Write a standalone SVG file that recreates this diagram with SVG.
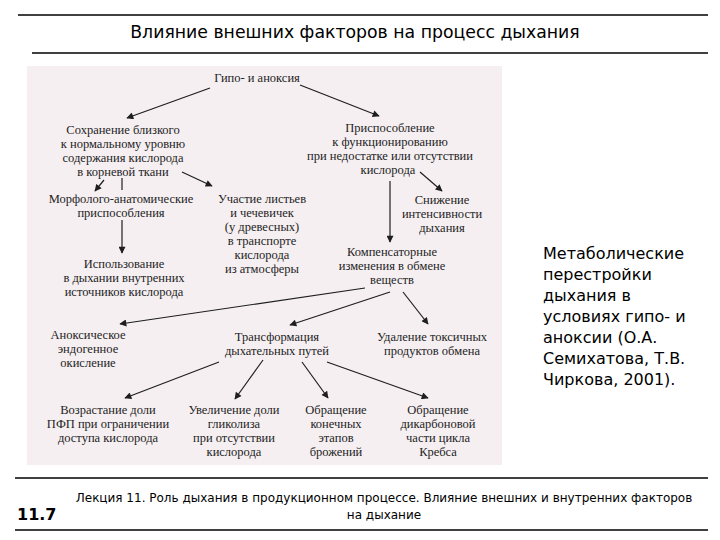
<svg xmlns="http://www.w3.org/2000/svg" width="720" height="540" viewBox="0 0 720 540">
<style>
.t{font-family:"Liberation Serif","Times New Roman",serif;font-size:12.5px;fill:#1e1e1e;text-anchor:middle}
.c{stroke:#1e1e1e;stroke-width:1.2;fill:none}
.rule{stroke:#000;stroke-width:1.3}
.hd{font-family:"DejaVu Sans",Tahoma,sans-serif;fill:#000}
</style>
<defs>
<marker id="ah" viewBox="0 0 10 10" refX="9" refY="5" markerWidth="9" markerHeight="7" markerUnits="userSpaceOnUse" orient="auto"><path d="M0,0 L10,5 L0,10 z" fill="#1e1e1e"/></marker>
</defs>
<rect width="720" height="540" fill="#fff"/>
<g id="header">
<line class="rule" x1="18" y1="15" x2="708" y2="15"/>
<text class="hd" x="355" y="38" font-size="17.3" text-anchor="middle">Влияние внешних факторов на процесс дыхания</text>
<line class="rule" x1="32" y1="53" x2="708" y2="53"/>
</g>
<rect id="panel" x="27" y="66" width="475" height="399" fill="#f5eff1"/>
<g id="connectors">
<path class="c" d="M210,88 L127,118" marker-end="url(#ah)"/>
<path class="c" d="M300,85 L379,116" marker-end="url(#ah)"/>
<path class="c" d="M104,180 L95,191" marker-end="url(#ah)"/>
<path class="c" d="M122,178 L122,190"/>
<path class="c" d="M182,172 L212,186" marker-end="url(#ah)"/>
<path class="c" d="M420,172 L442,191" marker-end="url(#ah)"/>
<path class="c" d="M390,181 L390,242" marker-end="url(#ah)"/>
<path class="c" d="M122,220 L122,253" marker-end="url(#ah)"/>
<path class="c" d="M365,288 L120,324" marker-end="url(#ah)"/>
<path class="c" d="M390,292 L290,325" marker-end="url(#ah)"/>
<path class="c" d="M403,292 L428,324" marker-end="url(#ah)"/>
<path class="c" d="M219,362 L125,398" marker-end="url(#ah)"/>
<path class="c" d="M263,360 L235,399" marker-end="url(#ah)"/>
<path class="c" d="M302,362 L328,398" marker-end="url(#ah)"/>
<path class="c" d="M327,362 L428,398" marker-end="url(#ah)"/>
</g>
<g id="n-hypo"><text class="t" x="257" y="82">Гипо- и аноксия</text></g>
<g id="n-keep"><text class="t" x="123" y="134">Сохранение близкого</text><text class="t" x="123" y="148">к нормальному уровню</text><text class="t" x="123" y="162">содержания кислорода</text><text class="t" x="123" y="176">в корневой ткани</text></g>
<g id="n-adapt"><text class="t" x="390" y="132">Приспособление</text><text class="t" x="390" y="146">к функционированию</text><text class="t" x="390" y="160">при недостатке или отсутствии</text><text class="t" x="388" y="174">кислорода</text></g>
<g id="n-morph"><text class="t" x="121" y="203">Морфолого-анатомические</text><text class="t" x="121" y="217">приспособления</text></g>
<g id="n-leaves"><text class="t" x="262" y="203">Участие листьев</text><text class="t" x="262" y="217">и чечевичек</text><text class="t" x="262" y="231">(у древесных)</text><text class="t" x="262" y="245">в транспорте</text><text class="t" x="262" y="259">кислорода</text><text class="t" x="262" y="273">из атмосферы</text></g>
<g id="n-decr"><text class="t" x="442" y="204">Снижение</text><text class="t" x="442" y="218">интенсивности</text><text class="t" x="442" y="232">дыхания</text></g>
<g id="n-use"><text class="t" x="124" y="268">Использование</text><text class="t" x="124" y="282">в дыхании внутренних</text><text class="t" x="124" y="296">источников кислорода</text></g>
<g id="n-comp"><text class="t" x="392" y="256">Компенсаторные</text><text class="t" x="392" y="270">изменения в обмене</text><text class="t" x="392" y="284">веществ</text></g>
<g id="n-anox"><text class="t" x="88" y="339">Аноксическое</text><text class="t" x="88" y="353">эндогенное</text><text class="t" x="88" y="367">окисление</text></g>
<g id="n-transf"><text class="t" x="277" y="341">Трансформация</text><text class="t" x="277" y="355">дыхательных путей</text></g>
<g id="n-remove"><text class="t" x="432" y="341">Удаление токсичных</text><text class="t" x="432" y="355">продуктов обмена</text></g>
<g id="n-ppp"><text class="t" x="108" y="414">Возрастание доли</text><text class="t" x="108" y="428">ПФП при ограничении</text><text class="t" x="108" y="442">доступа кислорода</text></g>
<g id="n-glyc"><text class="t" x="234" y="414">Увеличение доли</text><text class="t" x="234" y="428">гликолиза</text><text class="t" x="234" y="442">при отсутствии</text><text class="t" x="234" y="456">кислорода</text></g>
<g id="n-ferm"><text class="t" x="336" y="414">Обращение</text><text class="t" x="336" y="428">конечных</text><text class="t" x="336" y="442">этапов</text><text class="t" x="336" y="456">брожений</text></g>
<g id="n-krebs"><text class="t" x="438" y="414">Обращение</text><text class="t" x="438" y="428">дикарбоновой</text><text class="t" x="438" y="442">части цикла</text><text class="t" x="438" y="456">Кребса</text></g>
<g id="caption" class="hd" font-size="16">
<text x="543" y="259">Метаболические</text>
<text x="543" y="280">перестройки</text>
<text x="543" y="301">дыхания в</text>
<text x="543" y="322">условиях гипо- и</text>
<text x="543" y="343">аноксии (О.А.</text>
<text x="543" y="364">Семихатова, Т.В.</text>
<text x="543" y="385">Чиркова, 2001).</text>
</g>
<g id="footer">
<line class="rule" x1="15" y1="478" x2="708" y2="478"/>
<text class="hd" x="17" y="520" font-size="16" font-weight="bold">11.7</text>
<text class="hd" x="384" y="502" font-size="12" text-anchor="middle">Лекция 11. Роль дыхания в продукционном процессе. Влияние внешних и внутренних факторов</text>
<text class="hd" x="384" y="519" font-size="12" text-anchor="middle">на дыхание</text>
<line class="rule" x1="15" y1="530" x2="708" y2="530"/>
</g>
</svg>
